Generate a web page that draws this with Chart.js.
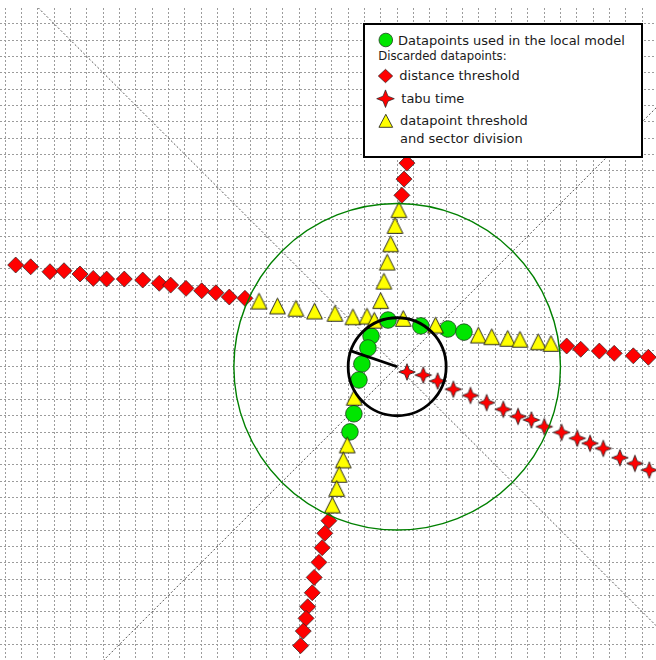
<!DOCTYPE html>
<html>
<head>
<meta charset="utf-8">
<script src="https://cdn.jsdelivr.net/npm/chart.js@4/dist/chart.umd.min.js"></script>
<style>
  html, body { margin: 0; padding: 0; background: #fff; }
  #wrap { position: relative; width: 656px; height: 660px; overflow: hidden; }
  #legend {
    position: absolute; left: 363px; top: 23px; width: 280px; height: 135px;
    box-sizing: border-box; border: 2px solid #000; background: #fff;
    font-family: "DejaVu Sans", sans-serif; color: #1a1a1a;
  }
  #legend svg { position: absolute; left: 0; top: 0; }
  .lt { position: absolute; white-space: nowrap; font-size: 13px; line-height: 13px; }
  .small { font-size: 11.7px; line-height: 11.7px; }
</style>
</head>
<body>
<div id="wrap">
  <canvas id="c" width="656" height="660"></canvas>
  <div id="legend">
    <svg width="276" height="131" viewBox="0 0 276 131">
      <circle cx="20.8" cy="15" r="6.8" fill="#00e600" stroke="#1f3f1f" stroke-width="0.8"/>
      <polygon points="13.3,51 20.5,44.3 27.7,51 20.5,57.7" fill="#ff0000" stroke="#222" stroke-width="0.7"/>
      <polygon points="20.5,64.9 23.0,71.2 29.3,73.7 23.0,76.2 20.5,82.5 18.0,76.2 11.7,73.7 18.0,71.2"
               fill="#ff0000" stroke="#222" stroke-width="0.7"/>
      <polygon points="20.8,89.3 27.65,102.3 13.95,102.3" fill="#ffff00" stroke="#111" stroke-width="0.8"/>
    </svg>
    <div class="lt" style="left:33px; top:9px;">Datapoints used in the local model</div>
    <div class="lt small" style="left:13.2px; top:26.4px;">Discarded datapoints:</div>
    <div class="lt" style="left:34.3px; top:44px;">distance threshold</div>
    <div class="lt" style="left:36.3px; top:67.3px;">tabu time</div>
    <div class="lt" style="left:35px; top:89px;">datapoint threshold</div>
    <div class="lt" style="left:35px; top:106.7px;">and sector division</div>
  </div>
</div>
<script>
// Coordinates are in grid cells, with the current position at the origin.
const CENTER = [0, 0];
const SEARCH_RADIUS = 10;   // outer neighbourhood (green ring)
const LOCAL_RADIUS = 3;     // local model region (black ring)
const HEADING_END = [-2.84, 0.97];

// Visible window of the plane
const X_RANGE = [-24.32, 15.85];
const Y_RANGE = [-17.96, 21.97];

// Dotted sector-division diagonals
const SECTOR_LINE_A = [[-40, -40], [40, 40]];
const SECTOR_LINE_B = [[-40, 40], [40, -40]];

const usedPoints = [
  [-0.56, 2.86], [-1.60, 1.88], [-1.79, 1.15], [-2.16, 0.17], [-2.34, -0.81],
  [-2.65, -2.88], [-2.89, -3.99], [1.45, 2.50], [3.11, 2.31], [4.09, 2.12]
];

const distancePoints = [
  // north arm
  [0.60, 12.47], [0.42, 11.49], [0.29, 10.50],
  // west arm
  [-23.36, 6.23], [-22.44, 6.12], [-21.26, 5.82], [-20.40, 5.88], [-19.42, 5.68],
  [-18.61, 5.41], [-17.79, 5.37], [-16.71, 5.37], [-15.58, 5.31], [-14.57, 5.11],
  [-13.87, 5.00], [-12.93, 4.80], [-11.97, 4.65], [-11.10, 4.53], [-10.28, 4.27],
  [-9.32, 4.19],
  // east arm
  [10.38, 1.27], [11.24, 1.07], [12.38, 0.96], [13.29, 0.82], [14.46, 0.67], [15.38, 0.58],
  // south arm
  [-4.18, -9.43], [-4.43, -10.20], [-4.59, -11.08], [-4.79, -11.98], [-5.08, -12.90],
  [-5.20, -13.84], [-5.48, -14.70], [-5.58, -15.41], [-5.75, -16.19], [-5.91, -17.08]
];

const tabuPoints = [
  [0.60, -0.32], [1.60, -0.51], [2.48, -0.88], [3.44, -1.38], [4.49, -1.76],
  [5.48, -2.20], [6.50, -2.61], [7.40, -3.04], [8.22, -3.26], [9.01, -3.67],
  [10.07, -4.02], [11.03, -4.38], [11.81, -4.69], [12.62, -5.00], [13.64, -5.57],
  [14.56, -5.92], [15.44, -6.33]
];

const thresholdPoints = [
  // north arm
  [0.11, 9.62], [-0.13, 8.65], [-0.40, 7.53], [-0.61, 6.41], [-0.81, 5.24], [-1.01, 4.05],
  // west arm
  [-8.46, 4.02], [-7.33, 3.72], [-6.20, 3.58], [-5.06, 3.41], [-3.81, 3.27],
  [-2.71, 3.06], [-1.85, 3.10], [-1.40, 2.85],
  // east arm
  [0.37, 2.96], [2.35, 2.55], [4.97, 1.94], [5.79, 1.84], [6.77, 1.74],
  [7.52, 1.68], [8.64, 1.53], [9.42, 1.43],
  // south arm
  [-2.63, -1.87], [-3.06, -4.79], [-3.30, -5.71], [-3.55, -6.59], [-3.70, -7.45], [-3.97, -8.47]
];

const toXY = pts => pts.map(([x, y]) => ({ x, y }));

// Marker sprites
function starSprite(R, inner) {
  const s = Math.ceil(2 * R + 3);
  const c = document.createElement('canvas');
  c.width = c.height = s;
  const g = c.getContext('2d');
  const m = s / 2;
  g.beginPath();
  for (let k = 0; k < 8; k++) {
    const a = -Math.PI / 2 + k * Math.PI / 4;
    const r = k % 2 ? R * inner : R;
    g.lineTo(m + r * Math.cos(a), m + r * Math.sin(a));
  }
  g.closePath();
  g.fillStyle = '#ff0000';
  g.fill();
  g.lineWidth = 0.8;
  g.strokeStyle = '#222';
  g.stroke();
  return c;
}

function triangleSprite(side) {
  const s = Math.ceil(side + 3);
  const c = document.createElement('canvas');
  c.width = c.height = s;
  const g = c.getContext('2d');
  const m = s / 2, h = side / 2;
  g.beginPath();
  g.moveTo(m, m - h);
  g.lineTo(m + h, m + h);
  g.lineTo(m - h, m + h);
  g.closePath();
  g.fillStyle = '#ffff00';
  g.fill();
  g.lineWidth = 0.9;
  g.strokeStyle = '#111';
  g.stroke();
  return c;
}

const STAR = starSprite(8.3, 0.4);
const TRIANGLE = triangleSprite(15.7);

// Rings drawn on top of the markers, sized through the axis scales
const rings = {
  id: 'rings',
  afterDatasetsDraw(chart) {
    const { ctx, chartArea, scales: { x, y } } = chart;
    const cx = x.getPixelForValue(CENTER[0]);
    const cy = y.getPixelForValue(CENTER[1]);
    ctx.save();
    ctx.beginPath();
    ctx.rect(chartArea.left, chartArea.top, chartArea.right - chartArea.left, chartArea.bottom - chartArea.top);
    ctx.clip();

    const rOuter = x.getPixelForValue(CENTER[0] + SEARCH_RADIUS) - cx;
    ctx.beginPath();
    ctx.arc(cx, cy, rOuter, 0, Math.PI * 2);
    ctx.strokeStyle = '#008000';
    ctx.lineWidth = 1.4;
    ctx.stroke();

    const rInner = x.getPixelForValue(CENTER[0] + LOCAL_RADIUS) - cx;
    ctx.beginPath();
    ctx.arc(cx, cy, rInner, 0, Math.PI * 2);
    ctx.strokeStyle = '#000';
    ctx.lineWidth = 2.8;
    ctx.stroke();
    ctx.restore();
  }
};

const integerTicks = scale => {
  const ticks = [];
  for (let v = Math.ceil(scale.min); v <= Math.floor(scale.max); v++) ticks.push({ value: v });
  scale.ticks = ticks;
};

const gridScale = (range) => ({
  type: 'linear',
  min: range[0],
  max: range[1],
  afterBuildTicks: integerTicks,
  ticks: { display: false },
  border: { display: false, dash: [2, 2] },
  grid: { color: '#9c9c9c', lineWidth: 1, drawTicks: false }
});

new Chart(document.getElementById('c'), {
  type: 'scatter',
  data: {
    datasets: [
      {
        label: 'heading',
        data: toXY([CENTER, HEADING_END]),
        showLine: true,
        borderColor: '#000',
        borderWidth: 2.8,
        pointRadius: 0,
        order: 0
      },
      {
        label: 'datapoint threshold and sector division',
        data: toXY(thresholdPoints),
        pointStyle: TRIANGLE,
        pointRadius: 8,
        order: 1
      },
      {
        label: 'tabu time',
        data: toXY(tabuPoints),
        pointStyle: STAR,
        pointRadius: 8,
        order: 2
      },
      {
        label: 'distance threshold',
        data: toXY(distancePoints),
        pointStyle: 'rectRot',
        pointRadius: 8,
        backgroundColor: '#ff0000',
        borderColor: '#222',
        borderWidth: 0.7,
        order: 3
      },
      {
        label: 'Datapoints used in the local model',
        data: toXY(usedPoints),
        pointStyle: 'circle',
        pointRadius: 8.3,
        backgroundColor: '#00e600',
        borderColor: '#1f3f1f',
        borderWidth: 0.8,
        order: 4
      },
      {
        label: 'sector A',
        data: toXY(SECTOR_LINE_A),
        showLine: true,
        borderColor: '#555',
        borderWidth: 1,
        borderDash: [2, 2],
        pointRadius: 0,
        order: 9
      },
      {
        label: 'sector B',
        data: toXY(SECTOR_LINE_B),
        showLine: true,
        borderColor: '#555',
        borderWidth: 1,
        borderDash: [2, 2],
        pointRadius: 0,
        order: 9
      }
    ]
  },
  options: {
    responsive: false,
    animation: false,
    events: [],
    layout: { autoPadding: false, padding: { top: 8, left: 0, right: 0, bottom: 0 } },
    plugins: { legend: { display: false }, tooltip: { enabled: false } },
    scales: { x: gridScale(X_RANGE), y: gridScale(Y_RANGE) }
  },
  plugins: [rings]
});
</script>
</body>
</html>
